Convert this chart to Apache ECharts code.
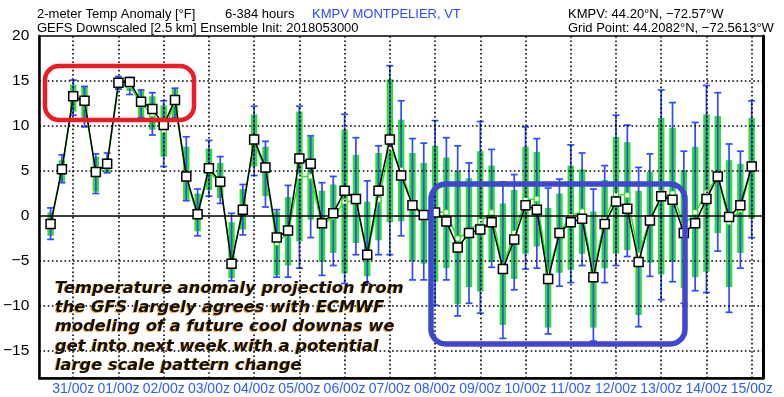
<!DOCTYPE html>
<html>
<head>
<meta charset="utf-8">
<script src="https://cdn.jsdelivr.net/npm/echarts@6/dist/echarts.min.js"></script>
<style>html,body{margin:0;padding:0;background:#fff;}#c{width:784px;height:397px;}</style>
</head>
<body>
<div id="c"></div>
<script>
// forecast hour (from init 2018-05-30 00z)
const hours = [12,18,24,30,36,42,48,54,60,66,72,78,84,90,96,102,108,114,120,126,132,138,144,150,156,162,168,174,180,186,192,198,204,210,216,222,228,234,240,246,252,258,264,270,276,282,288,294,300,306,312,318,324,330,336,342,348,354,360,366,372,378,384];
// downscaled (black squares)
const downscaled = [-0.9,5.2,13.3,12.8,4.9,5.8,14.8,14.9,12.7,11.9,10.1,12.9,4.4,0.2,5.3,3.8,-5.3,0.7,8.5,5.4,-2.4,-1.6,6.4,5.8,-0.8,0.3,2.8,1.9,-4.3,2.8,8.5,4.5,1.2,0.1,0.4,-0.6,-3.5,-1.9,-1.5,-0.7,-5.9,-2.6,1.2,0.7,-7.0,-1.9,-0.7,-0.3,-6.8,-0.9,1.6,0.8,-5.1,-0.5,2.2,1.8,-1.9,-0.8,1.9,4.4,-0.1,1.2,5.5];
// ensemble mean (green line)
const ensMean = [-0.9,5.0,13.2,12.6,4.7,5.7,14.6,14.5,12.5,11.3,9.5,12.5,4.2,0.0,5.0,3.6,-5.1,0.8,8.2,5.2,-3.0,-1.9,4.4,4.4,-1.0,-0.1,1.6,1.6,-4.4,1.8,7.5,5.1,1.2,0.3,0.5,0.4,-2.5,-1.7,-0.6,0.4,-5.6,-1.9,1.8,1.9,-6.4,-1.9,0.0,0.5,-6.4,-0.4,2.4,2.3,-4.3,-0.4,1.9,2.5,-1.0,0.4,2.6,4.4,-0.7,0.7,5.5];
// green boxes: lower / upper
const boxLow = [-2.2,3.8,11.6,10.7,2.7,4.8,14.1,13.9,10.9,9.6,6.6,10.9,1.8,-1.7,2.9,2.0,-6.9,-1.5,5.5,2.2,-6.6,-5.5,-2.8,-0.4,-5.1,-4.1,-6.4,-3.0,-6.7,-2.7,-0.7,-0.6,-5.0,-5.3,-7.3,-5.8,-9.8,-7.9,-8.4,-5.1,-12.1,-7.0,-4.2,-3.4,-12.4,-6.3,-6.0,-4.2,-12.4,-5.8,-4.2,-3.8,-11.0,-5.2,-6.5,-5.1,-8.0,-6.8,-6.2,-1.9,-7.9,-4.1,-0.3];
const boxHigh = [0.4,6.2,14.6,14.4,6.6,6.4,15.4,15.2,13.9,13.3,12.3,14.1,7.7,2.5,7.5,5.9,-0.7,3.0,11.3,7.7,0.5,2.1,11.6,8.8,2.8,3.5,9.6,6.8,1.6,7.0,15.2,10.7,7.0,5.9,7.8,6.5,5.0,4.2,7.2,5.6,1.4,2.9,7.7,7.1,0.9,2.5,5.6,5.2,0.5,4.0,8.8,8.2,2.8,4.9,10.9,9.8,5.1,7.7,11.3,11.1,6.2,5.8,10.9];
// blue whiskers: min / max
const whiskMin = [-2.6,3.7,11.2,9.9,2.5,4.8,14.1,13.5,10.9,9.0,5.5,10.9,1.7,-2.2,2.2,1.4,-7.2,-2.1,4.5,1.0,-6.8,-6.8,-5.8,-2.4,-6.6,-5.5,-7.5,-4.3,-7.5,-4.3,-4.3,-2.2,-7.1,-7.1,-9.9,-7.1,-11.1,-9.7,-10.8,-5.7,-13.6,-8.2,-5.9,-5.8,-13.1,-7.8,-7.4,-5.5,-13.9,-7.4,-5.5,-4.5,-12.3,-6.7,-9.3,-7.3,-9.7,-8.3,-8.5,-3.9,-10.7,-5.8,-2.4];
const whiskMax = [0.9,6.8,15.1,14.4,6.9,7.0,15.5,15.4,14.0,13.7,12.8,14.2,8.8,3.0,8.4,6.6,0.3,3.5,12.2,8.3,0.7,3.4,12.2,8.9,3.7,4.4,11.3,8.7,3.9,7.8,16.7,12.8,8.6,8.1,10.6,8.7,7.8,5.9,10.5,7.4,3.8,4.6,9.9,8.6,3.1,4.1,7.9,7.0,3.0,5.6,11.2,10.1,5.4,6.9,14.0,12.6,7.2,10.4,14.5,13.7,8.0,7.2,12.8];
// axis ticks
const dayTicks = [24,48,72,96,120,144,168,192,216,240,264,288,312,336,360,384];
const dayLabels = ['31/00z','01/00z','02/00z','03/00z','04/00z','05/00z','06/00z','07/00z','08/00z','09/00z','10/00z','11/00z','12/00z','13/00z','14/00z','15/00z'];
const yTicks = [-15,-10,-5,0,5,10,15,20];
const yGrid = [-15,-10,-5,5,10,15];
const noteLines = ['Temperature anomaly projection from','the GFS largely agrees with ECMWF','modeling of a future cool downas we','get into next week with a potential','large scale pattern change'];

const chart = echarts.init(document.getElementById('c'), null, {renderer:'canvas'});
const GREEN = '#2fdc2f', BLUE = '#2b4cff';

const boxData = hours.map((h,i)=>[h, boxLow[i], boxHigh[i]]);
const whiskData = hours.map((h,i)=>[h, whiskMin[i], whiskMax[i]]);

function renderBox(params, api){
  const x = api.value(0);
  const p1 = api.coord([x, api.value(2)]);
  const p2 = api.coord([x, api.value(1)]);
  return {type:'rect', shape:{x:p1[0]-3.2, y:p1[1], width:6.4, height:p2[1]-p1[1]}, style:{fill:GREEN}};
}
function renderWhisk(params, api){
  const x = api.value(0);
  const p1 = api.coord([x, api.value(2)]);
  const p2 = api.coord([x, api.value(1)]);
  const st = {stroke:BLUE, lineWidth:1.7};
  return {type:'group', children:[
    {type:'line', shape:{x1:p1[0], y1:p1[1], x2:p2[0], y2:p2[1]}, style:st},
    {type:'line', shape:{x1:p1[0]-3.5, y1:p1[1], x2:p1[0]+3.5, y2:p1[1]}, style:st},
    {type:'line', shape:{x1:p2[0]-3.5, y1:p2[1], x2:p2[0]+3.5, y2:p2[1]}, style:st}
  ]};
}

const gridLines = dayTicks.map(v=>({xAxis:v})).concat(yGrid.map(v=>({yAxis:v})));
const titleFont = '13px "Liberation Sans", Arial, sans-serif';
const noteFont = 'italic bold 16.3px "DejaVu Sans", sans-serif';

const graphics = [
  {type:'text', left:37, top:8, style:{text:'2-meter Temp Anomaly [\u00B0F]', font:titleFont, fill:'#000'}},
  {type:'text', left:225, top:8, style:{text:'6-384 hours', font:titleFont, fill:'#000'}},
  {type:'text', left:312, top:8, style:{text:'KMPV MONTPELIER, VT', font:titleFont, fill:'#2a4cff'}},
  {type:'text', left:37, top:22, style:{text:'GEFS Downscaled [2.5 km] Ensemble Init: 2018053000', font:titleFont, fill:'#000'}},
  {type:'text', left:568, top:8, style:{text:'KMPV: 44.20\u00B0N, \u221272.57\u00B0W', font:titleFont, fill:'#000'}},
  {type:'text', left:568, top:22, style:{text:'Grid Point: 44.2082\u00B0N, \u221272.5613\u00B0W', font:titleFont, fill:'#000'}},
  {type:'rect', z:100, shape:{x:45, y:66, width:149, height:54, r:14}, style:{fill:'none', stroke:'#ec1c24', lineWidth:4.5}},
  {type:'rect', z:100, shape:{x:431, y:184, width:254, height:160, r:15}, style:{fill:'none', stroke:'#3f48cc', lineWidth:5.5}}
];
noteLines.forEach((t,i)=>{
  graphics.push({type:'text', z:100, x:54, y:280.5+i*19.3+0.5, style:{text:t, font:noteFont, fill:'#f2a93b'}});
  graphics.push({type:'text', z:101, x:55, y:280.5+i*19.3, style:{text:t, font:noteFont, fill:'#111'}});
});

const option = {
  animation:false,
  backgroundColor:'#fff',
  grid:{left:36, right:21, top:36, bottom:19, show:true, borderColor:'#000', borderWidth:1.5},
  xAxis:{type:'value', min:6, max:390,
    axisLine:{show:true, onZero:false, lineStyle:{color:'#000', width:2.5}},
    axisTick:{show:false}, splitLine:{show:false},
    axisLabel:{customValues:dayTicks, formatter:(v)=>{const k=dayTicks.indexOf(v); return k>=0?dayLabels[k]:'';},
      color:'#2a5cff', fontFamily:'Liberation Sans', fontSize:14, margin:4}},
  yAxis:[{type:'value', min:-18, max:20,
    axisLine:{show:true, onZero:false, lineStyle:{color:'#000', width:2.5}},
    axisTick:{show:false}, splitLine:{show:false},
    axisLabel:{customValues:yTicks, formatter:(v)=>String(v).replace('-', '\u2212'),
      color:'#000', fontFamily:'Liberation Sans', fontSize:15.5, margin:10}},
    {type:'value', min:-18, max:20, position:'right',
    axisLine:{show:true, onZero:false, lineStyle:{color:'#000', width:3}},
    axisTick:{show:false}, splitLine:{show:false}, axisLabel:{show:false}}],
  graphic:graphics,
  series:[
    {type:'line', data:[], z:1, silent:true,
      markLine:{silent:true, symbol:'none', label:{show:false}, animation:false,
        lineStyle:{color:'#000', type:[1.6,2.6], width:1.6}, data:gridLines}},
    {type:'line', data:[], z:1, silent:true,
      markLine:{silent:true, symbol:'none', label:{show:false}, animation:false,
        lineStyle:{color:'#000', type:'solid', width:1.5}, data:[{yAxis:0}]}},
    {type:'custom', name:'box', renderItem:renderBox, data:boxData, z:2, encode:{x:0, y:[1,2]}},
    {type:'custom', name:'whisker', renderItem:renderWhisk, data:whiskData, z:3, encode:{x:0, y:[1,2]}},
    {type:'line', name:'mean', data:hours.map((h,i)=>[h, ensMean[i]]), z:4,
      lineStyle:{color:GREEN, width:1.5}, symbol:'rect', symbolSize:5,
      itemStyle:{color:'#fff', borderColor:GREEN, borderWidth:1}},
    {type:'line', name:'downscaled', data:hours.map((h,i)=>[h, downscaled[i]]), z:5,
      lineStyle:{color:'#000', width:1.5}, symbol:'rect', symbolSize:9,
      itemStyle:{color:'#fff', borderColor:'#000', borderWidth:1.5}}
  ]
};
chart.setOption(option);
</script>
</body>
</html>
